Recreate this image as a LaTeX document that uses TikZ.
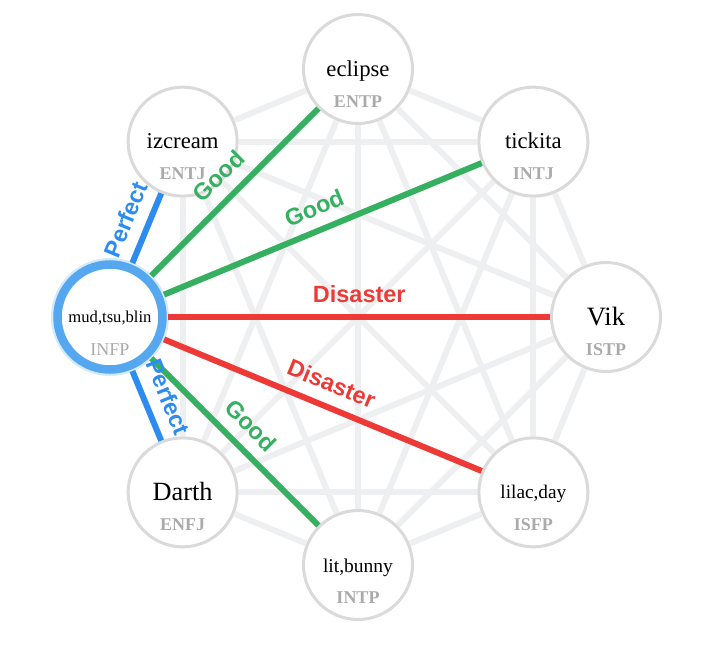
\documentclass[tikz,border=0pt]{standalone}
\usepackage{fontspec}
\setmainfont{Liberation Serif}
\setsansfont{Liberation Sans}
\usepackage{tikz}
\usetikzlibrary{positioning}
\definecolor{edgegray}{RGB}{238,239,241}
\definecolor{ringgray}{RGB}{218,218,218}
\definecolor{typegray}{RGB}{170,170,170}
\definecolor{ringblue}{RGB}{85,168,240}
\definecolor{perfblue}{RGB}{45,140,240}
\definecolor{goodgreen}{RGB}{52,176,96}
\definecolor{badred}{RGB}{238,58,55}

\begin{document}
\begin{tikzpicture}[x=1pt, y=1pt,
    main/.style = {draw=ringgray, line width=3pt, circle, fill=white, minimum size=109pt, inner sep=0pt},
    who/.style = {anchor=base, text=black, inner sep=0pt},
    mbti/.style = {anchor=base, text=typegray, inner sep=0pt, font=\bfseries\fontsize{18}{20}\selectfont},
    bond/.style = {line width=6pt},
    tag/.style = {midway, sloped, above=8pt, font=\sffamily\bfseries\fontsize{23.5}{28}\selectfont}]
    \useasboundingbox (-358,-329) rectangle (345,317);
    % glow round the selected one
    \draw[ringblue!25, line width=8pt] (180:248) circle (55pt);
    \node[main, draw=ringblue, line width=8.5pt, minimum size=105pt, outer sep=6pt] (1) at (180:248) {};
    \node[main] (2) at (135:248) {};
    \node[main] (3) at (90:248) {};
    \node[main] (4) at (45:248) {};
    \node[main] (5) at (0:248) {};
    \node[main] (6) at (-45:248) {};
    \node[main] (7) at (-90:248) {};
    \node[main] (8) at (-135:248) {};
    % every pair, faint
    \foreach \a in {1,...,7} {
        \pgfmathtruncatemacro\b{\a+1}
        \foreach \c in {\b,...,8}
            \draw[edgegray, line width=6pt] (\a) -- (\c);
    }
    % names and types
    \node[who, font=\fontsize{16.6}{20}\selectfont] (1n) at ([yshift=-5pt]1.center) {mud,tsu,blin};
    \node[mbti, font=\fontsize{18}{20}\selectfont] (1t) at ([yshift=-38pt]1.center) {INFP};
    \node[who, font=\fontsize{22.7}{26}\selectfont] (2n) at ([yshift=-7pt]2.center) {izcream};
    \node[mbti] (2t) at ([yshift=-38pt]2.center) {ENTJ};
    \node[who, font=\fontsize{22.7}{26}\selectfont] (3n) at ([yshift=-7pt]3.center) {eclipse};
    \node[mbti] (3t) at ([yshift=-38pt]3.center) {ENTP};
    \node[who, font=\fontsize{22.7}{26}\selectfont] (4n) at ([yshift=-7pt]4.center) {tickita};
    \node[mbti] (4t) at ([yshift=-38pt]4.center) {INTJ};
    \node[who, font=\fontsize{26.5}{30}\selectfont] (5n) at ([yshift=-8pt]5.center) {Vik};
    \node[mbti] (5t) at ([yshift=-38pt]5.center) {ISTP};
    \node[who, font=\fontsize{19.3}{22}\selectfont] (6n) at ([yshift=-6pt]6.center) {lilac,day};
    \node[mbti] (6t) at ([yshift=-38pt]6.center) {ISFP};
    \node[who, font=\fontsize{19.5}{22}\selectfont] (7n) at ([yshift=-7pt]7.center) {lit,bunny};
    \node[mbti] (7t) at ([yshift=-38pt]7.center) {INTP};
    \node[who, font=\fontsize{26.3}{30}\selectfont] (8n) at ([yshift=-8pt]8.center) {Darth};
    \node[mbti] (8t) at ([yshift=-38pt]8.center) {ENFJ};
    % matches of the selected one
    \draw[bond, perfblue] (1) -- node[tag] {Perfect} (2);
    \draw[bond, goodgreen] (1) -- node[tag] {Good} (3);
    \draw[bond, goodgreen] (1) -- node[tag] {Good} (4);
    \draw[bond, badred] (1) -- node[tag] {Disaster} (5);
    \draw[bond, badred] (1) -- node[tag] {Disaster} (6);
    \draw[bond, goodgreen] (1) -- node[tag] {Good} (7);
    \draw[bond, perfblue] (1) -- node[tag] {Perfect} (8);
\end{tikzpicture}
\end{document}
